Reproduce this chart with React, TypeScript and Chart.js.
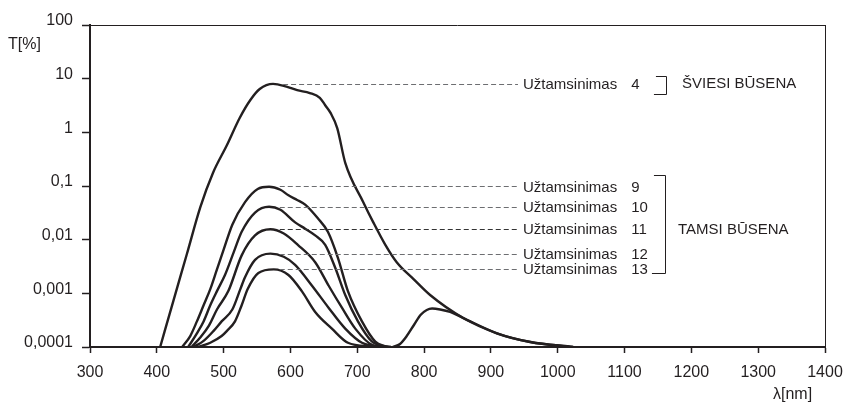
import React, { useEffect, useRef } from 'react';
import { Chart, registerables } from 'chart.js';

Chart.register(...registerables);

// ---------- DATA ----------
const yTickValues = [0.0001, 0.001, 0.01, 0.1, 1, 10, 100];
const yTickLabels = ['0,0001', '0,001', '0,01', '0,1', '1', '10', '100'];

const wl4 = [405, 425, 445, 465, 484, 505, 524, 540, 554, 574, 594, 610, 629, 644, 652, 660, 670, 682, 709, 724, 742, 759, 785, 809, 858, 909, 959, 1023];
const t4 = [0.0001, 0.00074, 0.0054, 0.04, 0.175, 0.58, 1.85, 4.0, 6.4, 8.0, 7.1, 6.1, 5.4, 4.4, 3.2, 2.3, 1.2, 0.27, 0.05, 0.021, 0.008, 0.0038, 0.0018, 0.00093, 0.00035, 0.00018, 0.000124, 0.0001];

const wl9 = [438, 450, 460, 470, 480, 490, 500, 513, 532, 551, 568, 585, 597, 610, 622, 641, 656, 671, 686, 707, 727, 740, 750];
const t9 = [0.0001, 0.00016, 0.0003, 0.0006, 0.0012, 0.0028, 0.0065, 0.019, 0.05, 0.088, 0.097, 0.085, 0.067, 0.055, 0.045, 0.025, 0.014, 0.0046, 0.0011, 0.0003, 0.000126, 0.000105, 0.0001];

const wl10 = [447, 460, 470, 480, 490, 502, 515, 527, 547, 568, 585, 607, 622, 637, 652, 667, 682, 701, 721, 740, 750];
const t10 = [0.0001, 0.00018, 0.0003, 0.0006, 0.0011, 0.0022, 0.0058, 0.014, 0.032, 0.041, 0.036, 0.021, 0.016, 0.012, 0.008, 0.003, 0.00093, 0.0003, 0.00013, 0.000103, 0.0001];

const wl11 = [452, 465, 478, 490, 507, 527, 547, 570, 590, 611, 637, 657, 677, 697, 722, 745];
const t11 = [0.0001, 0.00015, 0.00025, 0.0005, 0.0011, 0.0051, 0.012, 0.0156, 0.013, 0.008, 0.0038, 0.0014, 0.00054, 0.00022, 0.00011, 0.0001];

const wl12 = [455, 470, 485, 497, 513, 525, 532, 547, 570, 590, 607, 632, 657, 682, 707, 740];
const t12 = [0.0001, 0.00013, 0.0002, 0.0003, 0.0005, 0.0012, 0.002, 0.0042, 0.0055, 0.0048, 0.0034, 0.0014, 0.00054, 0.00022, 0.00012, 0.0001];

const wl13 = [462, 480, 497, 505, 517, 527, 536, 552, 575, 597, 617, 637, 662, 686, 720, 745];
const t13 = [0.0001, 0.00012, 0.00016, 0.0002, 0.0003, 0.0006, 0.0012, 0.0024, 0.0028, 0.0022, 0.0011, 0.00045, 0.00022, 0.00012, 0.000103, 0.0001];

// secondary NIR bump of the dark-state curves, merging into the tail
const wlBump = [753, 764, 774, 785, 795, 804, 812, 824, 839, 858, 909, 959, 1023];
const tBump = [0.0001, 0.000114, 0.00016, 0.00026, 0.0004, 0.00049, 0.00052, 0.0005, 0.00045, 0.00035, 0.00018, 0.000124, 0.0001];

const labelText = 'Užtamsinimas';
const labelNumbers = ['4', '9', '10', '11', '12', '13'];
const labelLevels = [7.9, 0.098, 0.041, 0.0156, 0.0055, 0.00284];
const dashStartNm = [589, 584, 584, 584, 584, 584];
const stateLabels = ['ŠVIESI BŪSENA', 'TAMSI BŪSENA'];
const yAxisTitle = 'T[%]';
const xAxisTitle = 'λ[nm]';

// ---------- STYLE ----------
const INK = '#231f20';
const FONT = '"Liberation Sans", Arial, sans-serif';

const toXY = (xs: number[], ys: number[]) => xs.map((x, i) => ({ x, y: ys[i] }));

const series = [
  toXY(wl4, t4),
  toXY(wl9, t9),
  toXY(wl10, t10),
  toXY(wl11, t11),
  toXY(wl12, t12),
  toXY(wl13, t13),
  toXY(wlBump, tBump),
];

const annotPlugin = {
  id: 'annot',
  afterDraw(chart: any) {
    const { ctx, chartArea: ca, scales } = chart;
    const xs = scales.x;
    const ys = scales.y;
    ctx.save();

    // thin top & right frame
    ctx.strokeStyle = INK;
    ctx.lineWidth = 1;
    ctx.setLineDash([]);
    ctx.beginPath();
    ctx.moveTo(ca.left, Math.round(ca.top) + 0.5);
    ctx.lineTo(ca.right, Math.round(ca.top) + 0.5);
    ctx.moveTo(Math.round(ca.right) + 0.5, ca.top);
    ctx.lineTo(Math.round(ca.right) + 0.5, ca.bottom);
    ctx.stroke();

    const labelX = xs.getPixelForValue(948);
    const numX = xs.getPixelForValue(1110);
    const ly: number[] = labelLevels.map((v) => ys.getPixelForValue(v));

    // dashed leader lines
    ctx.lineWidth = 1;
    ctx.setLineDash([5, 3]);
    labelLevels.forEach((v, i) => {
      const yy = Math.round(ly[i]) + 0.5;
      ctx.strokeStyle = i === 3 ? '#333' : '#6d6e71';
      ctx.beginPath();
      ctx.moveTo(xs.getPixelForValue(dashStartNm[i]), yy);
      ctx.lineTo(labelX - 5, yy);
      ctx.stroke();
    });
    ctx.setLineDash([]);

    // labels
    ctx.fillStyle = INK;
    ctx.font = `15px ${FONT}`;
    ctx.textBaseline = 'middle';
    ctx.textAlign = 'left';
    labelNumbers.forEach((n, i) => {
      ctx.fillText(labelText, labelX, ly[i] + 1);
      ctx.fillText(n, numX, ly[i] + 1);
    });

    // brackets
    const bx = Math.round(xs.getPixelForValue(1162)) + 0.5;
    const armL = xs.getPixelForValue(1144);
    ctx.strokeStyle = INK;
    ctx.lineWidth = 1;
    ctx.beginPath();
    // light state
    ctx.moveTo(armL + 2, Math.round(ly[0] - 8) + 0.5);
    ctx.lineTo(bx, Math.round(ly[0] - 8) + 0.5);
    ctx.lineTo(bx, Math.round(ly[0] + 10) + 0.5);
    ctx.lineTo(armL, Math.round(ly[0] + 10) + 0.5);
    // dark state
    const bx2 = bx - 1;
    ctx.moveTo(armL, Math.round(ly[1] - 11) + 0.5);
    ctx.lineTo(bx2, Math.round(ly[1] - 11) + 0.5);
    ctx.lineTo(bx2, Math.round(ly[5] + 4) + 0.5);
    ctx.lineTo(armL - 2, Math.round(ly[5] + 4) + 0.5);
    ctx.stroke();

    ctx.fillText(stateLabels[0], xs.getPixelForValue(1186), ly[0] + 0);
    ctx.fillText(stateLabels[1], xs.getPixelForValue(1180), ly[3] + 1);

    // axis titles
    ctx.font = `16px ${FONT}`;
    ctx.fillText(yAxisTitle, 8, 45);
    ctx.fillText(xAxisTitle, 773, 395);

    ctx.restore();
  },
};

export default function App() {
  const ref = useRef<HTMLCanvasElement>(null);

  useEffect(() => {
    if (!ref.current) return;
    const chart = new Chart(ref.current, {
      type: 'line',
      data: {
        datasets: series.map((d) => ({
          data: d,
          borderColor: INK,
          backgroundColor: INK,
          borderWidth: 2.4,
          pointRadius: 0,
          fill: false,
          cubicInterpolationMode: 'monotone' as const,
        })),
      },
      options: {
        responsive: false,
        animation: false,
        events: [],
        layout: { padding: { top: 25, right: 20, left: 0, bottom: 0 } },
        plugins: {
          legend: { display: false },
          tooltip: { enabled: false },
        },
        scales: {
          x: {
            type: 'linear',
            min: 300,
            max: 1400,
            afterFit: (s: any) => {
              s.height = 59;
              s.paddingLeft = 0;
              s.paddingRight = 0;
            },
            ticks: {
              stepSize: 100,
              color: INK,
              font: { family: FONT, size: 16 },
              padding: 10,
              maxRotation: 0,
              autoSkip: false,
              callback: (v: any) => String(v),
            },
            grid: {
              display: true,
              drawOnChartArea: false,
              drawTicks: true,
              tickLength: 6,
              tickWidth: 1.5,
              tickColor: INK,
            },
            border: { display: true, color: INK, width: 2 },
          },
          y: {
            type: 'logarithmic',
            min: 0.0001,
            max: 100,
            afterFit: (s: any) => {
              s.width = 90;
              s.paddingTop = 0;
              s.paddingBottom = 0;
            },
            afterBuildTicks: (s: any) => {
              s.ticks = yTickValues.map((v) => ({ value: v }));
            },
            ticks: {
              color: INK,
              font: { family: FONT, size: 16 },
              padding: 9,
              labelOffset: -4,
              autoSkip: false,
              callback: (v: any) => {
                const i = yTickValues.indexOf(Number(v));
                return i >= 0 ? yTickLabels[i] : '';
              },
            },
            grid: {
              display: true,
              drawOnChartArea: false,
              drawTicks: true,
              tickLength: 8,
              tickWidth: 1.5,
              tickColor: INK,
            },
            border: { display: true, color: INK, width: 2 },
          },
        },
      },
      plugins: [annotPlugin],
    });
    return () => chart.destroy();
  }, []);

  return (
    <div style={{ position: 'absolute', left: 0, top: 0, width: 845, height: 406, background: '#fff' }}>
      <canvas ref={ref} width={845} height={406} style={{ display: 'block' }} />
    </div>
  );
}
